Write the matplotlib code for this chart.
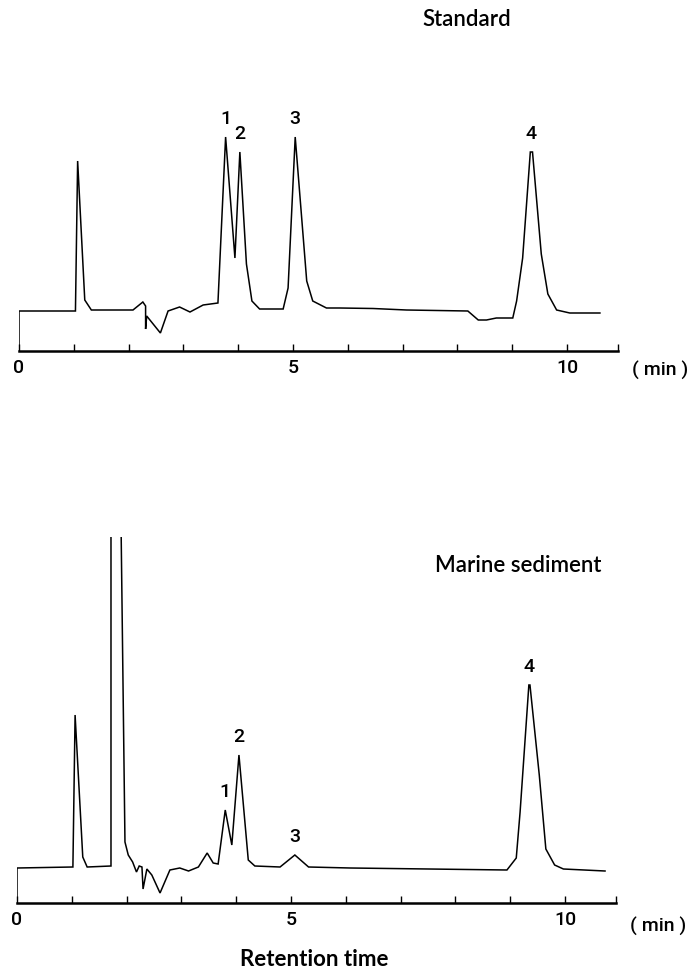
import numpy as np
import matplotlib
matplotlib.use("Agg")
import matplotlib.pyplot as plt

# Chromatograms (time in min, detector signal in arbitrary units)
std_time = [0.0, 0.0, 1.03, 1.07, 1.20, 1.32, 2.08, 2.26, 2.31, 2.31, 2.33, 2.58, 2.72,
            2.93, 3.12, 3.36, 3.63, 3.77, 3.94, 4.03, 4.15, 4.25, 4.39, 4.82, 4.91,
            5.04, 5.25, 5.36, 5.61, 5.85, 6.46, 7.07, 8.19, 8.38, 8.53, 8.71, 9.01,
            9.08, 9.19, 9.33, 9.37, 9.53, 9.65, 9.81, 10.05, 10.60]
std_signal = [0, 40, 40, 190, 51, 41, 41, 49, 45, 22, 35, 18, 40,
              44, 39, 46, 48, 214, 93, 199, 87, 50, 42, 42, 63,
              214, 70, 50, 43, 43, 42.5, 41, 40, 31, 31, 33, 33,
              50, 93, 199, 199, 97, 57, 41, 38, 38]

sed_time = [0.0, 0.0, 1.02, 1.06, 1.20, 1.28, 1.715, 1.715, 1.88, 1.97, 2.03, 2.11,
            2.18, 2.23, 2.28, 2.30, 2.37, 2.46, 2.61, 2.79, 2.97, 3.13, 3.31, 3.47,
            3.58, 3.67, 3.80, 3.92, 4.05, 4.22, 4.34, 4.80, 5.07, 5.32, 6.08, 8.94,
            9.11, 9.18, 9.34, 9.36, 9.53, 9.65, 9.81, 9.97, 10.73]
sed_signal = [0, 35, 36, 188, 46, 36, 37, 460, 460, 61, 48, 41,
              31, 37, 36, 14, 34, 28, 10, 33, 35, 32, 36, 50,
              40, 39, 93, 58, 148, 43, 37, 36, 48, 36, 35, 33,
              45, 91, 218, 218, 128, 54, 38, 34, 32]

peak_names = ["1", "2", "3", "4"]
std_peaks = [3.77, 4.03, 5.04, 9.35]
sed_peaks = [3.80, 4.05, 5.07, 9.35]

tick_labels = ["0", "", "", "", "", "5", "", "", "", "", "10"]

W, H = 696, 975
fig = plt.figure(figsize=(W / 100, H / 100), dpi=100)
num_font = "Roboto"
title_font = "Lato"


def make_axes(left_px, right_px, bottom_px, top_px, ytop):
    ax = fig.add_axes([left_px / W, 1 - bottom_px / H,
                       (right_px - left_px) / W, (bottom_px - top_px) / H])
    ax.set_xlim(0, 10.93)
    ax.set_ylim(0, ytop)
    for side in ["top", "left", "right"]:
        ax.spines[side].set_visible(False)
    ax.spines["bottom"].set_linewidth(1.8)
    ax.set_yticks([])
    ax.set_xticks(list(range(11)) + [10.93])
    ax.set_xticklabels(tick_labels + [""], fontsize=14, family=num_font,
                       fontweight="medium")
    ax.tick_params(axis="x", direction="in", length=5, width=1.0, pad=6)
    ax.patch.set_alpha(0)
    return ax


def draw(ax, t, s, peaks, offset):
    ax.plot(t, s, color="black", lw=1.1, solid_joinstyle="miter")
    for name, pt in zip(peak_names, peaks):
        ax.annotate(name, (pt, np.interp(pt, t, s)), xytext=(0, offset),
                    textcoords="offset points", ha="center", va="center",
                    fontsize=14, family=num_font, fontweight="medium")


ax1 = make_axes(19, 618, 351, 100, 251)
draw(ax1, std_time, std_signal, std_peaks, 13)

ax2 = make_axes(17, 616, 903, 537, 366)
draw(ax2, sed_time, sed_signal, sed_peaks, 13)

fig.text(660 / W, 1 - 370 / H, "( min )", fontsize=14, family=num_font,
         fontweight="medium", ha="center", va="center")
fig.text(658 / W, 1 - 926 / H, "( min )", fontsize=14, family=num_font,
         fontweight="medium", ha="center", va="center")

fig.text(467 / W, 1 - 20 / H, "Standard", fontsize=16, family=title_font,
         fontweight="semibold", ha="center", va="center")
fig.text(518 / W, 1 - 566 / H, "Marine sediment", fontsize=16, family=title_font,
         fontweight="semibold", ha="center", va="center")
fig.text(314 / W, 1 - 960 / H, "Retention time", fontsize=16, family=title_font,
         fontweight="bold", ha="center", va="center")

fig.savefig("out.png", dpi=100, facecolor="white")
